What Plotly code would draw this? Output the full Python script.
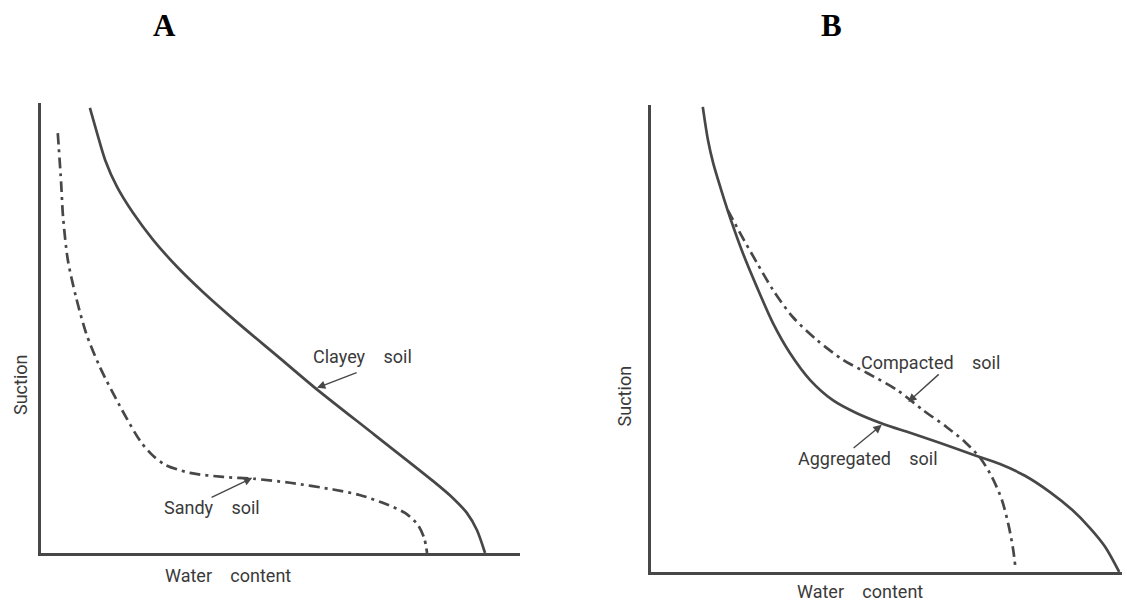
import plotly.graph_objects as go

# water content / suction, both scaled 0..1 per panel
clayey_water = [0.102, 0.117, 0.134, 0.159, 0.192, 0.234, 0.284, 0.338, 0.409, 0.493, 0.572,
                0.697, 0.816, 0.858, 0.889, 0.910, 0.927]
clayey_suction = [0.989, 0.933, 0.873, 0.813, 0.756, 0.696, 0.636, 0.580, 0.513, 0.438, 0.367,
                  0.262, 0.162, 0.124, 0.089, 0.051, 0.0]

sandy_water = [0.035, 0.042, 0.046, 0.056, 0.073, 0.094, 0.123, 0.169, 0.207, 0.232, 0.259,
               0.311, 0.380, 0.443, 0.520, 0.610, 0.665, 0.712, 0.760, 0.787, 0.800, 0.806]
sandy_suction = [0.933, 0.822, 0.747, 0.651, 0.569, 0.489, 0.413, 0.318, 0.249, 0.218, 0.196,
                 0.178, 0.169, 0.165, 0.156, 0.141, 0.129, 0.112, 0.089, 0.062, 0.033, 0.0]

aggregated_water = [0.110, 0.121, 0.132, 0.151, 0.172, 0.195, 0.225, 0.259, 0.295, 0.338, 0.386,
                    0.437, 0.493, 0.550, 0.614, 0.684, 0.741, 0.794, 0.847, 0.894, 0.932, 0.964, 0.994]
aggregated_suction = [0.996, 0.925, 0.876, 0.812, 0.747, 0.683, 0.610, 0.533, 0.469, 0.411, 0.368,
                      0.340, 0.317, 0.298, 0.276, 0.251, 0.231, 0.206, 0.171, 0.133, 0.094, 0.054, 0.0]

compacted_water = [0.163, 0.189, 0.225, 0.259, 0.301, 0.352, 0.408, 0.459, 0.522, 0.577, 0.628,
                   0.667, 0.699, 0.724, 0.745, 0.760, 0.769, 0.773]
compacted_suction = [0.775, 0.726, 0.662, 0.604, 0.546, 0.497, 0.454, 0.426, 0.390, 0.347, 0.310,
                     0.278, 0.244, 0.203, 0.154, 0.096, 0.047, 0.015]

ink = "#474747"
txt = "#3a3a3a"
label_font = dict(family="Roboto", size=18, color=txt)
dashdot = "11px,5px,3px,5px"
gap = "\u2002\u2002"

fig = go.Figure()

fig.add_trace(go.Scatter(x=clayey_water, y=clayey_suction, mode="lines",
                         line=dict(color=ink, width=2.7, shape="spline", smoothing=0.8),
                         xaxis="x", yaxis="y"))
fig.add_trace(go.Scatter(x=sandy_water, y=sandy_suction, mode="lines",
                         line=dict(color=ink, width=2.7, dash=dashdot, shape="spline", smoothing=0.8),
                         xaxis="x", yaxis="y"))
fig.add_trace(go.Scatter(x=aggregated_water, y=aggregated_suction, mode="lines",
                         line=dict(color=ink, width=2.7, shape="spline", smoothing=0.8),
                         xaxis="x2", yaxis="y2"))
fig.add_trace(go.Scatter(x=compacted_water, y=compacted_suction, mode="lines",
                         line=dict(color=ink, width=2.7, dash=dashdot, shape="spline", smoothing=0.8),
                         xaxis="x2", yaxis="y2"))

axis_style = dict(range=[0, 1], showline=True, linecolor=ink, linewidth=3, mirror=False,
                  showgrid=False, zeroline=False, showticklabels=False, ticks="", fixedrange=True)

fig.update_layout(
    width=1127, height=601,
    margin=dict(l=0, r=0, t=0, b=0),
    paper_bgcolor="white", plot_bgcolor="white",
    showlegend=False,
    xaxis=dict(domain=[0.0364, 0.4614], anchor="y", **axis_style),
    yaxis=dict(domain=[0.0799, 0.8286], anchor="x", **axis_style),
    xaxis2=dict(domain=[0.5776, 0.9956], anchor="y2", **axis_style),
    yaxis2=dict(domain=[0.0483, 0.8253], anchor="x2", **axis_style),
)

# curve labels
labels = [
    ("Clayey" + gap + "soil", "x", "y", 0.672, 0.436),
    ("Sandy" + gap + "soil", "x", "y", 0.357, 0.102),
    ("Compacted" + gap + "soil", "x2", "y2", 0.594, 0.448),
    ("Aggregated" + gap + "soil", "x2", "y2", 0.461, 0.244),
]
for text, xr, yr, x, y in labels:
    fig.add_annotation(text=text, xref=xr, yref=yr, x=x, y=y, xanchor="center", yanchor="middle",
                       showarrow=False, font=label_font)

# pointer arrows (tip, tail)
arrows = [
    ("x", "y", 0.576, 0.367, 0.662, 0.402),
    ("x", "y", 0.441, 0.167, 0.353, 0.122),
    ("x2", "y2", 0.546, 0.364, 0.614, 0.426),
    ("x2", "y2", 0.490, 0.315, 0.427, 0.263),
]
for xr, yr, x, y, ax, ay in arrows:
    fig.add_annotation(text="", xref=xr, yref=yr, x=x, y=y, axref=xr, ayref=yr, ax=ax, ay=ay,
                       showarrow=True, arrowhead=2, arrowsize=1.2, arrowwidth=1.4, arrowcolor=ink)

# axis titles and panel letters
for x, y in [(0.0177, 0.361), (0.554, 0.341)]:
    fig.add_annotation(text="Suction", xref="paper", yref="paper", x=x, y=y, textangle=-90,
                       xanchor="center", yanchor="middle", showarrow=False, font=label_font)
for x, y in [(0.202, 0.042), (0.763, 0.015)]:
    fig.add_annotation(text="Water" + gap + "content", xref="paper", yref="paper", x=x, y=y,
                       xanchor="center", yanchor="middle", showarrow=False, font=label_font)
for text, x in [("A", 0.146), ("B", 0.738)]:
    fig.add_annotation(text="<b>" + text + "</b>", xref="paper", yref="paper", x=x, y=0.957,
                       xanchor="center", yanchor="middle", showarrow=False,
                       font=dict(family="Liberation Serif", size=31, color="black"))

fig.write_html("out.html", config={"displayModeBar": False},
               post_script="document.body.style.margin='0';")
